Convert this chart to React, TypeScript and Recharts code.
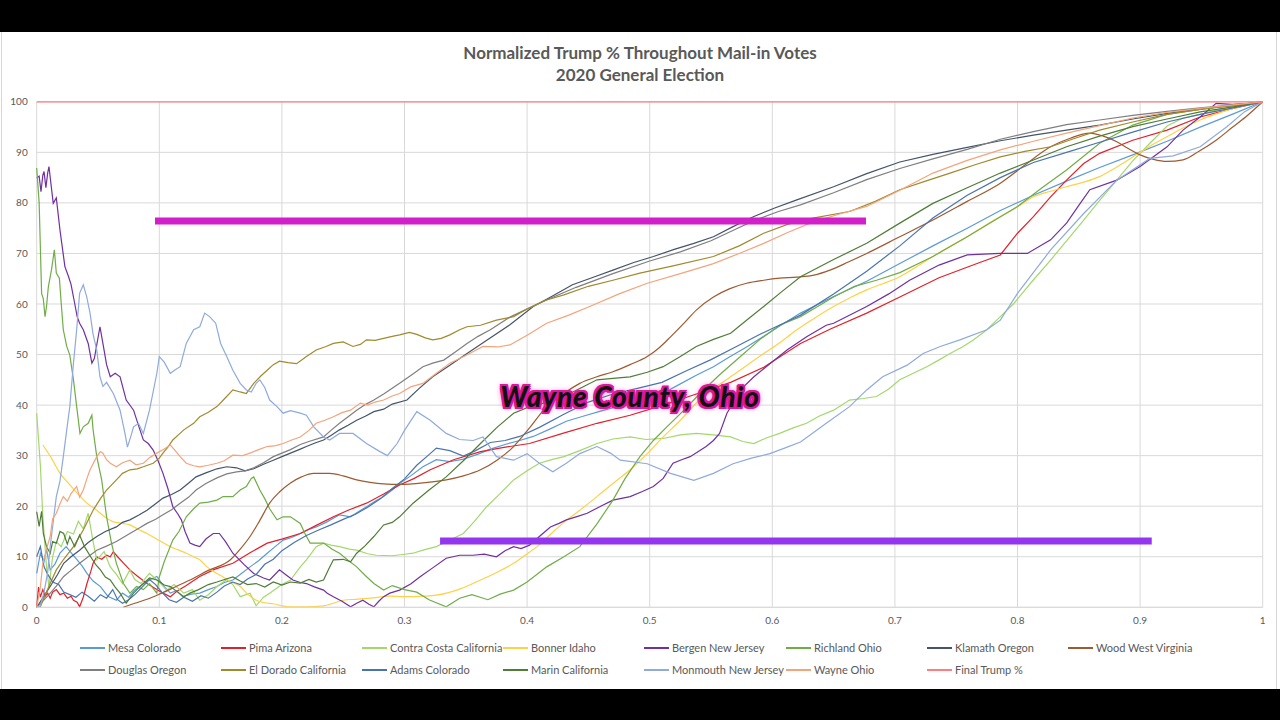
import { LineChart, Line, XAxis, YAxis, CartesianGrid, ReferenceLine } from "recharts";

type Pt = [number, number];

const xTicks = [0, 0.1, 0.2, 0.3, 0.4, 0.5, 0.6, 0.7, 0.8, 0.9, 1];
const yTicks = [0, 10, 20, 30, 40, 50, 60, 70, 80, 90, 100];

const mesaColorado: Pt[] = [
  [0, 6.7], [0.003, 10.7], [0.006, 9], [0.008, 11.5], [0.011, 7.4], [0.015, 8.6], [0.019, 10.7], [0.024, 12],
  [0.028, 10.8], [0.033, 9.4], [0.037, 8.2], [0.041, 6.7], [0.046, 5.2], [0.052, 4.1], [0.058, 2.2], [0.065, 1.4],
  [0.07, 2.8], [0.075, 2], [0.079, 3.2], [0.084, 4.1], [0.09, 5.2], [0.098, 6.1], [0.103, 4.4], [0.109, 2.8],
  [0.114, 3.3], [0.119, 2.1], [0.126, 2.6], [0.133, 2.8], [0.14, 3.5], [0.147, 4.1], [0.153, 4.9], [0.16, 5.4],
  [0.167, 6.7], [0.174, 8], [0.181, 9.2], [0.188, 10.7], [0.195, 12.1], [0.201, 13.3], [0.208, 13.8], [0.215, 14.6],
  [0.222, 15.4], [0.228, 15.9], [0.236, 16.8], [0.247, 18.3], [0.256, 17.9], [0.263, 19], [0.269, 19.9], [0.276, 21],
  [0.283, 21.9], [0.29, 23.2], [0.296, 24.5], [0.305, 26], [0.315, 27.8], [0.326, 29.2], [0.337, 28.8], [0.348, 29.3],
  [0.36, 30.3], [0.37, 31.3], [0.382, 32.2], [0.394, 33], [0.405, 33.8], [0.418, 35.2], [0.432, 36.8], [0.447, 37.9],
  [0.46, 38.8], [0.47, 39.5], [0.485, 40.2], [0.498, 41], [0.512, 42.5], [0.525, 44.2], [0.538, 45.9], [0.552, 47.6],
  [0.565, 49.5], [0.579, 51.5], [0.593, 53.6], [0.607, 55.8], [0.623, 58.2], [0.65, 61.5], [0.677, 64.5], [0.704, 68],
  [0.731, 71.5], [0.759, 75], [0.786, 78.5], [0.813, 81.5], [0.84, 84.3], [0.867, 87], [0.894, 89.5], [0.922, 92.2],
  [0.949, 95], [0.976, 97.6], [1, 100],
];

const pimaArizona: Pt[] = [
  [0, 0], [0.0015, 4], [0.003, 2], [0.005, 3.5], [0.007, 2.2], [0.009, 2.8], [0.011, 1.8], [0.013, 3], [0.016, 3.5],
  [0.019, 2.5], [0.022, 2.8], [0.025, 1.8], [0.028, 2.2], [0.03, 1.4], [0.033, 1], [0.035, 0.1], [0.038, 2],
  [0.041, 4.7], [0.044, 7], [0.046, 8.7], [0.049, 10], [0.053, 9.5], [0.057, 10.3], [0.06, 10], [0.0625, 11],
  [0.066, 10], [0.071, 8.7], [0.076, 7.4], [0.082, 6.2], [0.09, 4.7], [0.096, 3.8], [0.103, 2.8], [0.109, 2.1],
  [0.115, 3.3], [0.122, 4.3], [0.133, 6.1], [0.145, 7.5], [0.16, 8.7], [0.174, 10.8], [0.188, 12.7], [0.2, 13.5],
  [0.215, 14.6], [0.228, 16.2], [0.242, 17.9], [0.255, 19.3], [0.269, 20.6], [0.283, 22.4], [0.296, 24.2],
  [0.308, 25.5], [0.321, 27.2], [0.34, 29.2], [0.362, 30.8], [0.38, 31.6], [0.402, 32.4], [0.429, 34.4],
  [0.457, 36.4], [0.484, 38], [0.511, 40], [0.538, 42.2], [0.566, 44.5], [0.593, 47.5], [0.623, 52.2], [0.647, 55],
  [0.677, 58.2], [0.704, 61.4], [0.736, 65.2], [0.767, 68], [0.786, 69.7], [0.8, 74], [0.813, 77.3], [0.827, 81.2],
  [0.84, 84.5], [0.854, 87.8], [0.867, 89.8], [0.894, 92.4], [0.922, 94.4], [0.949, 97], [0.976, 98.7], [1, 100],
];

const contraCostaCalifornia: Pt[] = [
  [0, 38.4], [0.003, 28], [0.005, 18], [0.008, 8], [0.01, 4], [0.013, 10], [0.016, 13], [0.02, 12], [0.025, 15],
  [0.03, 14.5], [0.034, 17], [0.038, 15.5], [0.042, 18.6], [0.046, 13], [0.049, 9.4], [0.055, 11], [0.06, 8],
  [0.065, 6.5], [0.07, 4.7], [0.076, 7.4], [0.08, 5.5], [0.085, 4.7], [0.092, 6.7], [0.1, 5], [0.106, 3.4],
  [0.112, 4.5], [0.12, 2.8], [0.127, 3.5], [0.133, 1.4], [0.14, 2.5], [0.147, 4.1], [0.155, 5.5], [0.16, 4.5],
  [0.166, 2.1], [0.174, 2.8], [0.179, 0.3], [0.185, 2], [0.19, 2.8], [0.2, 4.5], [0.207, 5.4], [0.215, 8],
  [0.22, 9.4], [0.228, 12], [0.234, 12.7], [0.24, 12.3], [0.247, 12], [0.255, 11.5], [0.261, 11.3], [0.27, 10.6],
  [0.277, 10.3], [0.29, 10.2], [0.3, 10.5], [0.307, 10.7], [0.315, 11.3], [0.326, 12], [0.337, 13.3], [0.348, 14.6],
  [0.357, 17], [0.367, 19.9], [0.378, 22.5], [0.389, 25.2], [0.4, 27], [0.41, 28.5], [0.42, 29.2], [0.43, 29.8],
  [0.443, 31], [0.457, 32.4], [0.47, 33.3], [0.484, 33.7], [0.497, 33.2], [0.511, 33.4], [0.525, 34.1], [0.538, 34.4],
  [0.552, 34.1], [0.566, 33.7], [0.576, 32.8], [0.585, 32.4], [0.595, 33.5], [0.606, 34.4], [0.617, 35.5],
  [0.628, 36.4], [0.638, 37.8], [0.65, 39], [0.663, 41], [0.674, 41.3], [0.685, 41.7], [0.695, 43.2], [0.704, 45],
  [0.715, 46.3], [0.726, 47.6], [0.735, 48.8], [0.745, 50.2], [0.755, 51.5], [0.764, 52.9], [0.775, 54.9],
  [0.786, 57.5], [0.797, 60.1], [0.812, 64.5], [0.827, 68.7], [0.84, 72.5], [0.854, 76.6], [0.867, 80.5],
  [0.881, 84.5], [0.894, 88.3], [0.908, 91.8], [0.922, 95.2], [0.935, 96.8], [0.949, 97.5], [0.97, 98.8], [1, 100],
];

const bonnerIdaho: Pt[] = [
  [0.005, 32.1], [0.012, 29.5], [0.019, 26.5], [0.026, 24.5], [0.033, 22.6], [0.04, 20.8], [0.049, 19.2],
  [0.056, 17.8], [0.0625, 16.9], [0.07, 16.6], [0.076, 16.3], [0.083, 15.4], [0.09, 14.6], [0.1, 13.2],
  [0.109, 12], [0.115, 11.4], [0.122, 10.7], [0.128, 10], [0.133, 9.4], [0.139, 8], [0.145, 7], [0.152, 6],
  [0.159, 5], [0.166, 4.1], [0.172, 2.6], [0.179, 1.4], [0.186, 0.9], [0.193, 0.7], [0.2, 0.3], [0.207, 0.1],
  [0.22, 0.1], [0.234, 0.3], [0.242, 0.8], [0.25, 1.4], [0.262, 1.6], [0.272, 1.8], [0.288, 2.2], [0.3, 2.1],
  [0.315, 2.2], [0.326, 2.4], [0.345, 3.6], [0.362, 5.4], [0.376, 7], [0.389, 8.7], [0.399, 10.4], [0.408, 12],
  [0.418, 14.2], [0.429, 16.6], [0.443, 19.2], [0.457, 21.9], [0.47, 24.5], [0.484, 27.2], [0.498, 30.4],
  [0.511, 33.7], [0.525, 37], [0.538, 40.4], [0.552, 43.2], [0.566, 45.6], [0.58, 48], [0.593, 50.2], [0.607, 52.5],
  [0.62, 54.9], [0.635, 57.3], [0.65, 59.5], [0.663, 61.2], [0.677, 62.8], [0.69, 64], [0.704, 65.4], [0.718, 67.4],
  [0.731, 69.4], [0.745, 71.4], [0.759, 73.3], [0.772, 75.3], [0.786, 77.3], [0.8, 79.2], [0.813, 81.2],
  [0.827, 82.3], [0.84, 83.2], [0.854, 84.1], [0.867, 85.2], [0.881, 87.1], [0.894, 89.1], [0.908, 91.2],
  [0.922, 93.1], [0.935, 94.8], [0.949, 96.4], [0.962, 97.6], [0.976, 98.7], [1, 100],
];

const bergenNewJersey: Pt[] = [
  [0, 84.9], [0.002, 85.3], [0.0035, 82.2], [0.005, 85.5], [0.006, 86.2], [0.0075, 83], [0.009, 86], [0.01, 87.2],
  [0.012, 83], [0.0135, 79.9], [0.016, 81], [0.019, 74.6], [0.023, 67.4], [0.026, 65.4], [0.028, 63.9], [0.031, 60.1],
  [0.033, 57.5], [0.035, 56.2], [0.038, 54.9], [0.042, 52.2], [0.045, 48.3], [0.047, 49.2], [0.0516, 55.5],
  [0.054, 52.2], [0.057, 48], [0.06, 45.6], [0.064, 46.3], [0.068, 45.6], [0.073, 41], [0.079, 39], [0.083, 36],
  [0.087, 33.1], [0.091, 32.4], [0.095, 31.1], [0.099, 29], [0.103, 26.5], [0.107, 23.5], [0.111, 19.9],
  [0.115, 18.5], [0.118, 17.3], [0.121, 15], [0.125, 12.7], [0.129, 12.3], [0.133, 12], [0.138, 13.5],
  [0.144, 14.6], [0.149, 14.6], [0.154, 13], [0.16, 10.7], [0.169, 8.5], [0.177, 6.7], [0.185, 5.8], [0.19, 5.4],
  [0.198, 7.4], [0.204, 6.3], [0.209, 5.4], [0.215, 4.9], [0.22, 4.7], [0.226, 4.1], [0.234, 3.4], [0.237, 2.8],
  [0.242, 2.1], [0.249, 1.2], [0.256, 0.1], [0.261, 0.8], [0.266, 1.4], [0.271, 0.6], [0.275, 0.1], [0.279, 1.2],
  [0.283, 2.1], [0.288, 2.8], [0.296, 3.4], [0.305, 4.6], [0.313, 6.1], [0.323, 7.8], [0.334, 9.7], [0.345, 10.3],
  [0.356, 10.3], [0.365, 10.5], [0.375, 10], [0.382, 11.2], [0.389, 12], [0.395, 11.6], [0.402, 12.3], [0.41, 14],
  [0.419, 15.9], [0.426, 16.6], [0.432, 17.3], [0.44, 17.9], [0.449, 18.6], [0.46, 20], [0.47, 21.2], [0.484, 21.9],
  [0.494, 22.9], [0.503, 23.9], [0.511, 25.5], [0.519, 28.5], [0.526, 29.2], [0.533, 29.8], [0.546, 31.8],
  [0.552, 33], [0.557, 34.4], [0.563, 38.4], [0.569, 40.8], [0.574, 43], [0.585, 45.6], [0.595, 47.6], [0.612, 50.9],
  [0.628, 53.5], [0.644, 55.8], [0.65, 56.2], [0.677, 59.5], [0.695, 62], [0.712, 64.7], [0.736, 67.7],
  [0.759, 69.7], [0.786, 70], [0.808, 70], [0.827, 72.7], [0.84, 76], [0.85, 79.5], [0.859, 82.6], [0.881, 84.5],
  [0.9, 87.2], [0.922, 91.1], [0.935, 94.4], [0.949, 97], [0.962, 99.7], [0.975, 99.5], [0.99, 99.7], [1, 100],
];

const richlandOhio: Pt[] = [
  [0, 86.9], [0.002, 80], [0.004, 62.1], [0.0054, 61], [0.0068, 57.5], [0.008, 59.5], [0.0095, 63.4], [0.012, 66.7],
  [0.0144, 70.7], [0.016, 66.1], [0.0185, 65.1], [0.02, 60.1], [0.0217, 54.9], [0.0245, 51.6], [0.027, 49.9],
  [0.03, 45], [0.0326, 39.7], [0.0353, 34.4], [0.038, 35.7], [0.042, 36.4], [0.045, 38], [0.046, 35.1], [0.049, 29.8],
  [0.053, 25.2], [0.057, 17.9], [0.061, 12.7], [0.065, 8.7], [0.0707, 4.7], [0.076, 2.8], [0.0815, 4.1],
  [0.087, 3.5], [0.092, 4.7], [0.098, 2.8], [0.1, 6], [0.104, 9], [0.111, 13.3], [0.116, 15], [0.122, 17.9],
  [0.128, 19.5], [0.133, 20.6], [0.14, 20.8], [0.147, 21.2], [0.152, 21.9], [0.16, 21.9], [0.166, 23.2],
  [0.171, 23.9], [0.175, 25.5], [0.177, 25.8], [0.182, 23.2], [0.186, 21.5], [0.19, 19.5], [0.196, 17.3],
  [0.201, 17.9], [0.207, 17.9], [0.215, 16.6], [0.219, 14.5], [0.223, 12.7], [0.234, 12.7], [0.241, 11.5],
  [0.247, 10.7], [0.254, 9.3], [0.261, 8], [0.268, 6.3], [0.275, 4.7], [0.283, 3.4], [0.29, 4.3], [0.3, 3.5],
  [0.31, 3], [0.32, 1.5], [0.334, 0.1], [0.345, 1.8], [0.355, 2.5], [0.368, 1.5], [0.378, 2.6], [0.389, 3.4],
  [0.4, 5], [0.416, 8], [0.43, 10], [0.443, 12], [0.457, 16.5], [0.47, 21.2], [0.48, 25.5], [0.492, 29.8],
  [0.503, 33], [0.514, 35.7], [0.528, 39], [0.541, 42.3], [0.557, 46], [0.574, 49.6], [0.59, 53], [0.606, 55.8],
  [0.623, 57.5], [0.637, 59.5], [0.65, 61.4], [0.667, 63.5], [0.685, 64.7], [0.704, 66.2], [0.731, 69.4],
  [0.759, 73.3], [0.8, 79.3], [0.82, 83], [0.84, 86.5], [0.867, 91.8], [0.894, 95.4], [0.922, 97.5],
  [0.949, 98.5], [0.976, 99.3], [1, 100],
];

const klamathOregon: Pt[] = [
  [0, 0], [0.004, 1.5], [0.008, 3], [0.012, 4.5], [0.017, 6.5], [0.022, 8.7], [0.028, 10], [0.035, 11.3],
  [0.042, 12.8], [0.049, 14], [0.056, 15], [0.065, 15.9], [0.07, 16.8], [0.076, 17.3], [0.083, 18.2], [0.09, 19.2],
  [0.097, 20.5], [0.103, 21.6], [0.11, 22.3], [0.117, 23.2], [0.124, 24.6], [0.13, 25.8], [0.138, 26.6],
  [0.147, 27.4], [0.155, 27.8], [0.163, 27.6], [0.17, 27], [0.177, 27.4], [0.185, 28.3], [0.193, 29.1],
  [0.2, 29.8], [0.207, 30.5], [0.215, 31.3], [0.22, 31.8], [0.227, 32.5], [0.234, 33.1], [0.24, 34], [0.247, 35.1],
  [0.254, 36], [0.261, 37], [0.268, 37.8], [0.275, 38.7], [0.283, 39.2], [0.29, 40.2], [0.302, 41], [0.312, 43.3],
  [0.323, 45.6], [0.337, 47.9], [0.351, 50.2], [0.368, 53], [0.386, 55.9], [0.405, 59.5], [0.42, 61.5],
  [0.437, 63.8], [0.454, 65.3], [0.47, 66.7], [0.487, 68.2], [0.503, 69.4], [0.52, 70.8], [0.536, 72],
  [0.552, 73.3], [0.568, 75.3], [0.585, 77.3], [0.602, 79], [0.62, 80.6], [0.65, 83.2], [0.677, 85.8],
  [0.704, 88.1], [0.731, 89.6], [0.759, 91], [0.786, 92.3], [0.813, 93.4], [0.84, 94.4], [0.867, 95.4],
  [0.894, 96.6], [0.922, 97.7], [0.949, 98.6], [0.976, 99.3], [1, 100],
];

const woodWestVirginia: Pt[] = [
  [0.0705, 0], [0.08, 0.8], [0.09, 1.6], [0.1, 2.6], [0.11, 3.7], [0.125, 5.4], [0.14, 7.3], [0.158, 9.4],
  [0.166, 11.5], [0.174, 14], [0.182, 17.2], [0.19, 20.6], [0.198, 22.8], [0.207, 24.6], [0.216, 25.8],
  [0.226, 26.5], [0.239, 26.5], [0.25, 26], [0.261, 25.2], [0.272, 24.7], [0.283, 24.4], [0.296, 24.3],
  [0.315, 24.6], [0.334, 25.2], [0.348, 26], [0.362, 27.2], [0.376, 29.2], [0.389, 31.8], [0.402, 35.5],
  [0.416, 39.7], [0.43, 42.3], [0.443, 44.3], [0.457, 45.6], [0.47, 46.6], [0.484, 48], [0.498, 49.6],
  [0.508, 51.4], [0.517, 53.5], [0.528, 56.2], [0.538, 58.8], [0.552, 61.4], [0.565, 63], [0.579, 64.1],
  [0.593, 64.7], [0.606, 65.1], [0.62, 65.3], [0.634, 65.7], [0.647, 66.7], [0.662, 68.3], [0.677, 70],
  [0.704, 73.3], [0.731, 76.6], [0.759, 80.3], [0.786, 83.9], [0.806, 87.5], [0.827, 91.1], [0.843, 92.8],
  [0.859, 93.8], [0.87, 93.2], [0.881, 92.1], [0.89, 90.8], [0.9, 89.5], [0.911, 88.6], [0.922, 88.2],
  [0.935, 88.5], [0.948, 90.2], [0.962, 92.4], [0.975, 94.9], [0.988, 97.4], [1, 100],
];

const douglasOregon: Pt[] = [
  [0, 0], [0.004, 1], [0.01, 2.5], [0.016, 4.2], [0.022, 6.1], [0.028, 7.3], [0.035, 8.7], [0.042, 10],
  [0.049, 11.3], [0.056, 12], [0.065, 13], [0.076, 14.6], [0.083, 15.6], [0.09, 16.6], [0.097, 17.4],
  [0.103, 18.3], [0.11, 19.3], [0.117, 20.6], [0.124, 21.8], [0.13, 23.2], [0.138, 24.5], [0.147, 25.6],
  [0.155, 26.4], [0.163, 26.8], [0.17, 27], [0.177, 27.6], [0.185, 28.6], [0.193, 29.8], [0.2, 30.5],
  [0.207, 31.2], [0.215, 32.2], [0.222, 32.8], [0.234, 33.7], [0.24, 35], [0.247, 36.4], [0.254, 37.7],
  [0.261, 39], [0.268, 40.1], [0.275, 41], [0.283, 42.2], [0.296, 44.3], [0.306, 46], [0.315, 47.6],
  [0.323, 48.3], [0.332, 48.9], [0.342, 50.6], [0.351, 52.2], [0.36, 53.6], [0.37, 54.9], [0.386, 57.4],
  [0.41, 60.2], [0.44, 63.3], [0.47, 66], [0.5, 68.5], [0.525, 70.3], [0.55, 72.5], [0.57, 74.8], [0.585, 76.5],
  [0.605, 78.3], [0.623, 79.6], [0.65, 82], [0.677, 84.6], [0.704, 86.8], [0.731, 88.7], [0.759, 90.6],
  [0.786, 92.6], [0.813, 94.1], [0.84, 95.5], [0.867, 96.4], [0.894, 97.3], [0.922, 98.1], [0.949, 98.8],
  [0.976, 99.4], [1, 100],
];

const elDoradoCalifornia: Pt[] = [
  [0, 0], [0.003, 0.1], [0.007, 2.5], [0.011, 4.7], [0.016, 7.4], [0.022, 9.5], [0.03, 12], [0.038, 15.3],
  [0.046, 19.2], [0.052, 21.5], [0.057, 23.2], [0.065, 25.2], [0.07, 26.5], [0.076, 27.2], [0.082, 27.4],
  [0.087, 27.8], [0.095, 28.5], [0.1, 29.5], [0.103, 30.5], [0.107, 31.7], [0.111, 33.1], [0.116, 34.2],
  [0.12, 35.1], [0.128, 36.4], [0.133, 37.7], [0.14, 38.6], [0.147, 39.7], [0.153, 41.2], [0.16, 43],
  [0.166, 42.6], [0.171, 42.3], [0.177, 44.3], [0.183, 45.8], [0.188, 46.9], [0.193, 48], [0.198, 48.7],
  [0.205, 48.4], [0.212, 48.2], [0.22, 49.6], [0.228, 50.9], [0.236, 51.6], [0.242, 52.2], [0.25, 52.5],
  [0.258, 51.6], [0.264, 52], [0.269, 52.9], [0.276, 52.8], [0.283, 53.2], [0.29, 53.6], [0.296, 53.9],
  [0.304, 54.4], [0.31, 54], [0.317, 53.3], [0.323, 52.9], [0.33, 53.2], [0.337, 53.9], [0.345, 54.9],
  [0.351, 55.5], [0.362, 55.8], [0.375, 56.8], [0.389, 57.5], [0.4, 59], [0.416, 60.8], [0.43, 61.8],
  [0.45, 63.5], [0.47, 64.7], [0.492, 66.1], [0.52, 67.6], [0.552, 69.4], [0.573, 71.5], [0.593, 74],
  [0.613, 75.8], [0.633, 77], [0.663, 78.3], [0.684, 80.3], [0.704, 82.6], [0.725, 84.3], [0.745, 85.9],
  [0.766, 87.6], [0.786, 89.1], [0.806, 90.2], [0.827, 91.1], [0.847, 92.8], [0.867, 94.4], [0.894, 96],
  [0.922, 97.5], [0.949, 98.5], [0.976, 99.3], [1, 100],
];

const adamsColorado: Pt[] = [
  [0, 10], [0.003, 12], [0.006, 8], [0.009, 6.5], [0.013, 5], [0.018, 4.5], [0.022, 3], [0.027, 2.5], [0.032, 2],
  [0.037, 3], [0.042, 2.2], [0.047, 1.2], [0.052, 2.5], [0.057, 1.8], [0.062, 3.5], [0.066, 1.5], [0.07, 0.8],
  [0.075, 1.5], [0.08, 2.5], [0.086, 4], [0.092, 5.5], [0.097, 4.5], [0.102, 3], [0.108, 1.5], [0.114, 1],
  [0.12, 2], [0.127, 1.2], [0.134, 2.3], [0.14, 1.8], [0.147, 3], [0.153, 4.2], [0.16, 5], [0.166, 4.5],
  [0.172, 5.6], [0.179, 6.5], [0.186, 8.5], [0.193, 9.5], [0.2, 11.2], [0.21, 12.8], [0.22, 14.2], [0.23, 15.3],
  [0.24, 16.3], [0.25, 17.4], [0.26, 18.4], [0.27, 19.8], [0.28, 21.4], [0.29, 23.5], [0.3, 25.4], [0.31, 28.1],
  [0.32, 30.2], [0.326, 31.5], [0.337, 31], [0.348, 29.9], [0.358, 31], [0.37, 32.6], [0.382, 33], [0.394, 33.8],
  [0.41, 35.6], [0.43, 38.2], [0.45, 40.6], [0.47, 42.2], [0.49, 43.3], [0.51, 44.5], [0.53, 46.8], [0.55, 49],
  [0.57, 51.5], [0.59, 54], [0.61, 56.3], [0.623, 57.8], [0.65, 62], [0.677, 66.5], [0.704, 71.5], [0.731, 77],
  [0.759, 81.5], [0.786, 85], [0.813, 88], [0.84, 90], [0.867, 92], [0.894, 94], [0.922, 96], [0.949, 97.5],
  [0.976, 98.8], [1, 100],
];

const marinCalifornia: Pt[] = [
  [0, 18.9], [0.002, 16], [0.004, 19], [0.0054, 14.6], [0.008, 12], [0.011, 10.7], [0.013, 13], [0.016, 12.7],
  [0.019, 15], [0.022, 14.6], [0.025, 12.5], [0.027, 14], [0.031, 12], [0.035, 14.3], [0.039, 12], [0.044, 10],
  [0.048, 8.5], [0.052, 7.4], [0.056, 6], [0.06, 5.4], [0.064, 4], [0.068, 2.8], [0.073, 0.8], [0.076, 1.8],
  [0.079, 2.8], [0.083, 3.8], [0.087, 4.7], [0.092, 5.8], [0.098, 5.4], [0.104, 4.4], [0.109, 4.1], [0.115, 3],
  [0.12, 2.1], [0.125, 2.8], [0.132, 3.5], [0.14, 4.5], [0.147, 5], [0.152, 5.4], [0.16, 6], [0.166, 5.2],
  [0.172, 4.5], [0.179, 4.7], [0.186, 4], [0.193, 5], [0.2, 4.4], [0.207, 5], [0.215, 4.8], [0.222, 5.5],
  [0.228, 5], [0.234, 5.4], [0.238, 7.5], [0.242, 9.4], [0.25, 9.5], [0.256, 9], [0.261, 10.7], [0.268, 12.2],
  [0.275, 14], [0.283, 16.3], [0.29, 16.8], [0.296, 17.9], [0.307, 20.6], [0.32, 23.2], [0.334, 25.8], [0.348, 29],
  [0.362, 32.4], [0.375, 35.5], [0.389, 38.4], [0.405, 40], [0.418, 40.6], [0.43, 41.7], [0.443, 43.3],
  [0.457, 45], [0.47, 45.3], [0.484, 45.6], [0.498, 46.5], [0.511, 47.6], [0.525, 49.6], [0.538, 51.6],
  [0.552, 53], [0.566, 54.2], [0.58, 57], [0.593, 59.5], [0.608, 62.5], [0.623, 65.4], [0.65, 68.8], [0.677, 72],
  [0.704, 76], [0.731, 79.9], [0.759, 83], [0.786, 85.9], [0.813, 88.5], [0.84, 91.1], [0.867, 93.2],
  [0.894, 95.1], [0.922, 96.6], [0.949, 98], [0.976, 99], [1, 100],
];

const monmouthNewJersey: Pt[] = [
  [0, 0], [0.003, 0.3], [0.006, 3], [0.009, 7], [0.011, 12], [0.013, 16], [0.016, 21.9], [0.019, 25],
  [0.0217, 29.8], [0.0245, 35.1], [0.027, 39.7], [0.03, 48.3], [0.0326, 54.9], [0.035, 62.1], [0.038, 63.8],
  [0.0408, 61.4], [0.0435, 58.2], [0.046, 54], [0.049, 50.9], [0.0516, 45.6], [0.054, 43.7], [0.057, 44.5],
  [0.0625, 42.3], [0.068, 39], [0.072, 34.4], [0.074, 31.7], [0.077, 34], [0.079, 35.7], [0.083, 36.4],
  [0.087, 34.4], [0.092, 39], [0.098, 46.3], [0.1, 49.6], [0.104, 48.5], [0.109, 46.3], [0.113, 47], [0.117, 47.6],
  [0.122, 52.2], [0.128, 54.9], [0.133, 55.5], [0.137, 58.2], [0.141, 57.5], [0.146, 56.2], [0.15, 52.2],
  [0.155, 49.6], [0.16, 46.9], [0.166, 44.3], [0.171, 43], [0.175, 42.6], [0.179, 44.3], [0.182, 45],
  [0.186, 43.5], [0.19, 41], [0.196, 39.7], [0.201, 38.4], [0.207, 38.9], [0.215, 38.4], [0.22, 38],
  [0.226, 35.7], [0.234, 33.7], [0.239, 33.1], [0.247, 34.4], [0.258, 34.4], [0.269, 32.4], [0.28, 30.8],
  [0.286, 30], [0.294, 32.4], [0.3, 35], [0.31, 38.7], [0.321, 37], [0.334, 34.4], [0.345, 33.2], [0.356, 33],
  [0.364, 33.7], [0.375, 29.8], [0.389, 29.1], [0.4, 30.4], [0.41, 28.5], [0.421, 26.8], [0.432, 28.5],
  [0.443, 30.4], [0.457, 31.8], [0.468, 30.5], [0.476, 29.1], [0.498, 28.4], [0.517, 26.5], [0.536, 25.1],
  [0.552, 26.5], [0.568, 28.4], [0.583, 29.5], [0.598, 30.4], [0.61, 31.5], [0.623, 32.7], [0.644, 36.4],
  [0.663, 39.7], [0.677, 43], [0.69, 45.6], [0.71, 47.9], [0.723, 50.2], [0.737, 51.6], [0.753, 52.9],
  [0.775, 54.9], [0.786, 56.8], [0.8, 62.1], [0.827, 70.7], [0.854, 77.9], [0.881, 84.5], [0.908, 88.8],
  [0.927, 89.3], [0.949, 91.1], [0.971, 95.1], [0.985, 98], [1, 100],
];

const wayneOhio: Pt[] = [
  [0, 0], [0.003, 4], [0.005, 8.7], [0.008, 11.5], [0.011, 14], [0.013, 17.5], [0.016, 18.6], [0.019, 20.5],
  [0.0217, 21.9], [0.025, 21], [0.028, 22.5], [0.0326, 23.9], [0.035, 21.8], [0.038, 23.2], [0.041, 25.5],
  [0.0435, 27.2], [0.049, 29.8], [0.052, 30.8], [0.054, 30.5], [0.057, 29.2], [0.06, 28.5], [0.065, 27.8],
  [0.07, 28.6], [0.076, 29.1], [0.081, 28.2], [0.087, 28.5], [0.092, 29.6], [0.098, 30.5], [0.104, 31.3],
  [0.109, 32.1], [0.113, 31], [0.117, 29.8], [0.122, 28.5], [0.128, 28], [0.133, 27.8], [0.14, 28.1],
  [0.147, 28.5], [0.153, 29], [0.16, 30.1], [0.168, 30], [0.175, 30.6], [0.181, 31.2], [0.188, 31.8], [0.195, 32],
  [0.201, 32.4], [0.208, 33.1], [0.215, 33.7], [0.222, 35], [0.228, 36.4], [0.235, 37], [0.242, 37.7],
  [0.249, 38.5], [0.256, 39], [0.264, 40.4], [0.27, 40], [0.276, 40.6], [0.283, 41], [0.29, 41.8], [0.296, 42.3],
  [0.305, 43.6], [0.315, 44.3], [0.326, 46.3], [0.337, 48.3], [0.35, 49.8], [0.364, 51.6], [0.376, 51.5],
  [0.386, 51.9], [0.4, 53.8], [0.416, 56.2], [0.434, 57.8], [0.452, 59.6], [0.475, 62], [0.498, 64.1],
  [0.525, 66], [0.552, 68], [0.573, 70], [0.593, 72], [0.613, 74.2], [0.633, 76.2], [0.655, 77.8], [0.677, 79.3],
  [0.704, 82.5], [0.731, 85.9], [0.759, 88.4], [0.786, 90.5], [0.813, 92.2], [0.84, 93.8], [0.867, 95.3],
  [0.894, 96.8], [0.922, 97.9], [0.949, 98.7], [0.976, 99.4], [1, 100],
];

const finalTrumpPct: Pt[] = [[0, 100], [1, 100]];

const series = [
  { name: "Mesa Colorado", color: "#5B9BD5", points: mesaColorado },
  { name: "Pima Arizona", color: "#E3202A", points: pimaArizona },
  { name: "Contra Costa California", color: "#A3D86C", points: contraCostaCalifornia },
  { name: "Bonner Idaho", color: "#FFD146", points: bonnerIdaho, smooth: true },
  { name: "Bergen New Jersey", color: "#7030A0", points: bergenNewJersey },
  { name: "Richland Ohio", color: "#70AD47", points: richlandOhio },
  { name: "Klamath Oregon", color: "#44546A", points: klamathOregon },
  { name: "Wood West Virginia", color: "#9E5A30", points: woodWestVirginia, smooth: true },
  { name: "Douglas Oregon", color: "#7F7F7F", points: douglasOregon },
  { name: "El Dorado California", color: "#A08A2C", points: elDoradoCalifornia },
  { name: "Adams Colorado", color: "#4A74AE", points: adamsColorado },
  { name: "Marin California", color: "#4F7D36", points: marinCalifornia },
  { name: "Monmouth New Jersey", color: "#8FAADC", points: monmouthNewJersey },
  { name: "Wayne Ohio", color: "#F4A47C", points: wayneOhio },
  { name: "Final Trump %", color: "#FF7C80", points: finalTrumpPct },
];

// highlight bars painted over the chart, in data units
const highlightBars = [
  { x1: 0.0965, x2: 0.6764, y: 76.4, color: "#D21FC9" },
  { x1: 0.329, x2: 0.9095, y: 13.1, color: "#9436F0" },
];

const legendCols = [108, 249, 390, 531, 672, 814, 955, 1096];
const legendRowY = [648, 670];

const font = "Lato, 'Open Sans', sans-serif";
const textGray = "#595959";

export default function App() {
  return (
    <div style={{ position: "fixed", left: 0, top: 0, width: 1280, height: 720, background: "#000", overflow: "hidden", fontFamily: font }}>
      <div style={{ position: "absolute", left: 0, top: 32, width: 1280, height: 657, background: "#fff" }}>
        <div style={{ position: "absolute", left: 1, top: 0, width: 1274, height: 657, borderLeft: "1px solid #d6d6d6", borderRight: "1px solid #d6d6d6" }} />
      </div>

      <div style={{ position: "absolute", left: 0, top: 42, width: 1280, textAlign: "center", color: textGray, fontWeight: 700, fontSize: 17, lineHeight: "22px" }}>
        <div>Normalized Trump % Throughout Mail-in Votes</div>
        <div>2020 General Election</div>
      </div>

      <div style={{ position: "absolute", left: 0, top: 0 }}>
        <LineChart width={1280} height={720} margin={{ top: 101.8, right: 17.3, bottom: 82.7, left: 6.7 }}>
          <CartesianGrid stroke="#d9d9d9" strokeWidth={1} />
          <XAxis
            dataKey="x"
            type="number"
            domain={[0, 1]}
            ticks={xTicks}
            height={30}
            tickSize={0}
            tickMargin={10}
            axisLine={{ stroke: "#d9d9d9" }}
            tickLine={false}
            tick={{ fill: textGray, fontSize: 10, fontFamily: font }}
            allowDuplicatedCategory={false}
          />
          <YAxis
            type="number"
            domain={[0, 100]}
            ticks={yTicks}
            width={30}
            tickSize={0}
            tickMargin={9}
            axisLine={false}
            tickLine={false}
            tick={{ fill: textGray, fontSize: 10, fontFamily: font }}
          />
          {series.map((s) => (
            <Line
              key={s.name}
              data={s.points.map(([x, y]) => ({ x, y }))}
              dataKey="y"
              name={s.name}
              type={s.smooth ? "monotone" : "linear"}
              stroke={s.color}
              strokeWidth={1.2}
              dot={false}
              activeDot={false}
              isAnimationActive={false}
            />
          ))}
          {highlightBars.map((b, i) => (
            <ReferenceLine
              key={i}
              segment={[{ x: b.x1, y: b.y }, { x: b.x2, y: b.y }]}
              stroke={b.color}
              strokeWidth={7}
              ifOverflow="visible"
            />
          ))}
        </LineChart>
      </div>

      <div
        style={{
          position: "absolute",
          left: 430,
          top: 380,
          width: 400,
          textAlign: "center",
          fontSize: 28,
          fontWeight: 900,
          fontStyle: "italic",
          letterSpacing: 0.8,
          color: "#111",
          lineHeight: "32px",
          textShadow:
            "2px 0 0 #E0159C, -2px 0 0 #E0159C, 0 2px 0 #E0159C, 0 -2px 0 #E0159C, 2px 2px 0 #E0159C, -2px -2px 0 #E0159C, 2px -2px 0 #E0159C, -2px 2px 0 #E0159C, 0 0 6px #E0159C",
        }}
      >
        Wayne County, Ohio
      </div>

      {series.map((s, i) => {
        const row = i < 8 ? 0 : 1;
        const col = i < 8 ? i : i - 8;
        const tx = legendCols[col];
        const cy = legendRowY[row];
        return (
          <div key={s.name}>
            <div style={{ position: "absolute", left: tx - 28, top: cy - 1, width: 25, height: 2, background: s.color }} />
            <div style={{ position: "absolute", left: tx, top: cy - 8, fontSize: 11, lineHeight: "16px", color: textGray, whiteSpace: "nowrap" }}>
              {s.name}
            </div>
          </div>
        );
      })}
    </div>
  );
}
